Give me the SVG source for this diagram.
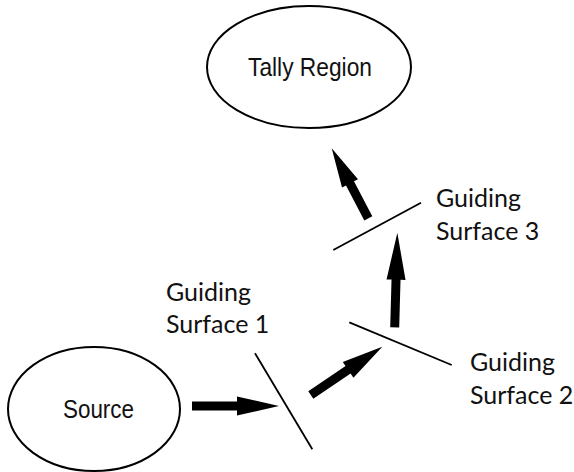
<svg xmlns="http://www.w3.org/2000/svg" width="574" height="472" viewBox="0 0 574 472">
<style>
.node ellipse{fill:#fff;stroke:#000;stroke-width:2}
.ntext{font-family:"Liberation Sans",Arial,sans-serif;font-size:25px;fill:#111}
.lbl{font-family:Lato,"Open Sans",sans-serif;font-size:25px;fill:#111}
.surf{stroke:#000;stroke-width:1.8;fill:none;stroke-linecap:butt}
.arr{fill:#000}
</style>
<rect width="574" height="472" fill="#fff"/>
<g id="tally" class="node">
<ellipse cx="309" cy="67" rx="102" ry="61"/>
<text class="ntext" x="248" y="76" textLength="124" lengthAdjust="spacingAndGlyphs">Tally Region</text>
</g>
<g id="source" class="node">
<ellipse cx="94" cy="409" rx="86" ry="62"/>
<text class="ntext" x="63" y="418" textLength="71" lengthAdjust="spacingAndGlyphs">Source</text>
</g>
<g id="surface1">
<line class="surf" x1="255" y1="353.3" x2="312.3" y2="449.3"/>
<text class="lbl" x="166" y="301">Guiding</text>
<text class="lbl" x="166" y="333">Surface 1</text>
</g>
<g id="surface2">
<line class="surf" x1="349.3" y1="322.3" x2="451.7" y2="365"/>
<text class="lbl" x="470" y="371">Guiding</text>
<text class="lbl" x="470" y="404">Surface 2</text>
</g>
<g id="surface3">
<line class="surf" x1="333.3" y1="250" x2="421" y2="202.7"/>
<text class="lbl" x="436" y="207">Guiding</text>
<text class="lbl" x="436" y="239.5">Surface 3</text>
</g>
<g id="connectors">
<path class="arr" transform="translate(192,406)" d="M0,-4.5 L45,-4.5 L45,-9.5 L87,0 L45,9.5 L45,4.5 L0,4.5 Z"/>
<path class="arr" transform="translate(310.8,395) rotate(-34.04)" d="M0,-4.5 L45,-4.5 L45,-9.5 L86.3,0 L45,9.5 L45,4.5 L0,4.5 Z"/>
<path class="arr" transform="translate(394.7,327.3) rotate(-88.4)" d="M0,-4.5 L47.6,-4.5 L47.6,-9.5 L94.6,0 L47.6,9.5 L47.6,4.5 L0,4.5 Z"/>
<path class="arr" transform="translate(368.3,218.3) rotate(-117.6)" d="M0,-4.5 L39.5,-4.5 L39.5,-9 L79,0 L39.5,9 L39.5,4.5 L0,4.5 Z"/>
</g>
</svg>
